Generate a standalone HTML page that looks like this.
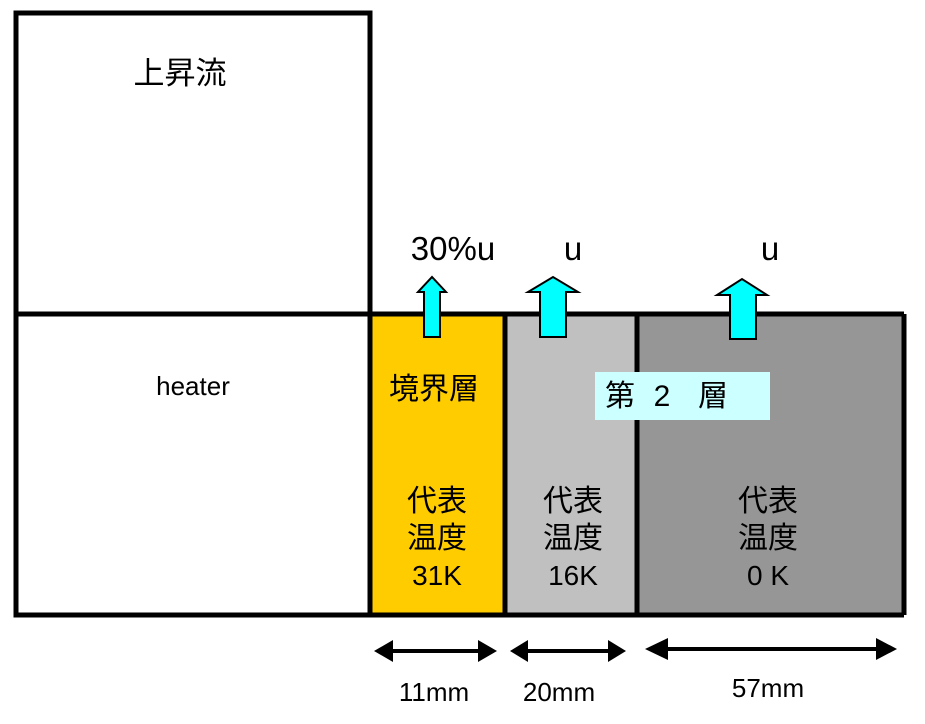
<!DOCTYPE html>
<html><head><meta charset="utf-8"><style>body{margin:0;background:#fff}svg{display:block}
text{font-family:"Liberation Sans","Noto Sans CJK JP",sans-serif;fill:#000}</style></head><body>
<svg width="925" height="724" viewBox="0 0 925 724">
<rect x="372" y="314" width="133" height="301" fill="#ffcc00"/>
<rect x="505" y="314" width="132" height="301" fill="#c0c0c0"/>
<rect x="637" y="314" width="267" height="301" fill="#969696"/>
<g stroke="#000" stroke-width="5" fill="none">
<rect x="16" y="13" width="354" height="602"/>
<line x1="16" y1="314" x2="904" y2="314"/>
<line x1="904" y1="314" x2="904" y2="615"/>
<line x1="370" y1="615" x2="904" y2="615"/>
<line x1="505" y1="314" x2="505" y2="615"/>
<line x1="637" y1="314" x2="637" y2="615"/>
</g>
<g fill="#00ffff" stroke="#000" stroke-width="2">
<polygon points="424,337 440,337 440,292 446,292 432,277 418,292 424,292"/>
<polygon points="540,337 566,337 566,292 578,292 553,277 528,292 540,292"/>
<polygon points="730,339 756,339 756,295 767,295 742,279 717,295 730,295"/>
</g>
<rect x="595" y="372" width="175" height="48" fill="#ccffff"/>
<text x="180" y="84" font-size="31" text-anchor="middle">上昇流</text>
<text x="193" y="395" font-size="26" text-anchor="middle">heater</text>
<text x="453" y="260" font-size="33" text-anchor="middle">30%u</text>
<text x="573" y="260" font-size="33" text-anchor="middle">u</text>
<text x="770" y="260" font-size="33" text-anchor="middle">u</text>
<text x="434" y="399" font-size="30" text-anchor="middle">境界層</text>
<text x="605" y="406" font-size="30">第</text>
<text x="662" y="406" font-size="30" text-anchor="middle">2</text>
<text x="698" y="406" font-size="30">層</text>
<g font-size="30" text-anchor="middle">
<text x="437" y="511">代表</text><text x="437" y="548">温度</text><text x="437" y="585" font-size="28">31K</text>
<text x="573" y="511">代表</text><text x="573" y="548">温度</text><text x="573" y="585" font-size="28">16K</text>
<text x="768" y="511">代表</text><text x="768" y="548">温度</text><text x="768" y="585" font-size="28">0 K</text>
</g>
<g stroke="#000" stroke-width="4"><line x1="385" y1="651" x2="485" y2="651"/><line x1="520" y1="651" x2="615" y2="651"/><line x1="655" y1="649" x2="885" y2="649"/></g>
<g fill="#000">
<polygon points="374,651 393,640 393,662"/><polygon points="497,651 478,640 478,662"/>
<polygon points="510,651 528,640 528,662"/><polygon points="626,651 608,640 608,662"/>
<polygon points="645,649 668,638 668,660"/><polygon points="897,649 876,638 876,660"/>
</g>
<g font-size="26" text-anchor="middle">
<text x="434" y="701">11mm</text><text x="559" y="701">20mm</text><text x="768" y="697">57mm</text>
</g>
</svg>
</body></html>
